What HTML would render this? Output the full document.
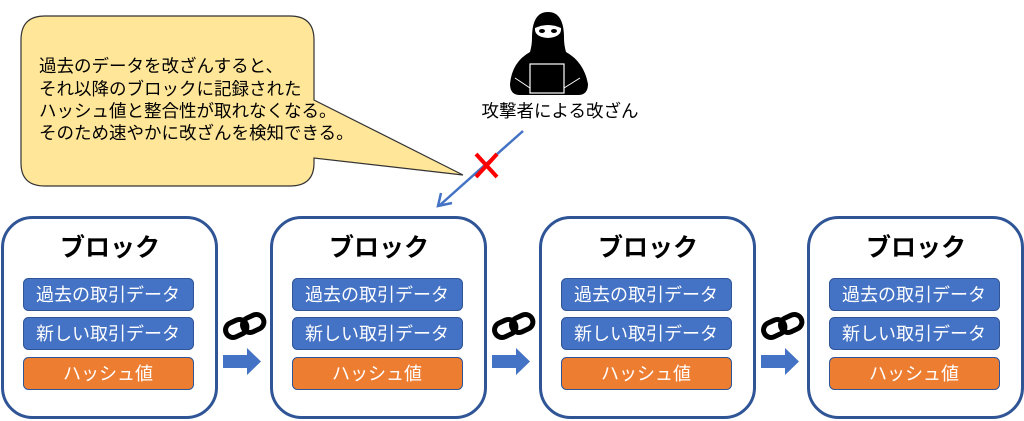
<!DOCTYPE html>
<html><head><meta charset="utf-8"><style>
html,body{margin:0;padding:0;background:#fff;width:1024px;height:421px;overflow:hidden}
svg text{font-family:"Liberation Sans","Noto Sans CJK JP",sans-serif}
</style></head><body>
<svg width="1024" height="421" viewBox="0 0 1024 421" xmlns="http://www.w3.org/2000/svg">
<defs>
<g id="blk">
  <rect x="2.5" y="217.5" width="214" height="200" rx="30" fill="#fff" stroke="#2f5597" stroke-width="3"/>
  <text x="110" y="256" font-size="25" font-weight="bold" text-anchor="middle" fill="#000">ブロック</text>
  <rect x="23.5" y="278.5" width="170" height="32" rx="5" fill="#4472c4" stroke="#2f5597" stroke-width="1"/>
  <text x="108" y="301" font-size="18" text-anchor="middle" fill="#fff">過去の取引データ</text>
  <rect x="23.5" y="317.5" width="170" height="32" rx="5" fill="#4472c4" stroke="#2f5597" stroke-width="1"/>
  <text x="108" y="340" font-size="18" text-anchor="middle" fill="#fff">新しい取引データ</text>
  <rect x="23.5" y="357.5" width="170" height="32" rx="5" fill="#ed7d31" stroke="#2f5597" stroke-width="1"/>
  <text x="108" y="380" font-size="18" text-anchor="middle" fill="#fff">ハッシュ値</text>
</g>
<g id="lnk">
  <g fill="none" stroke="#000" stroke-width="5">
    <rect x="225" y="321" width="22" height="15" rx="7.5" transform="rotate(-25 236 328)"/>
    <rect x="242" y="316" width="22" height="15" rx="7.5" transform="rotate(-25 253 323)"/>
  </g>
  <polygon points="223,355 247,355 247,348 261,361.5 247,375 247,368 223,368" fill="#4472c4"/>
</g>
</defs>
<use href="#blk"/>
<use href="#blk" x="269"/>
<use href="#blk" x="538"/>
<use href="#blk" x="806"/>
<use href="#lnk"/>
<use href="#lnk" x="269"/>
<use href="#lnk" x="538"/>
<!-- bubble -->
<path d="M45,16 H290 Q314,16 314,40 V100 L463,175 L314,158 V163 Q314,186 290,186 H45 Q21,186 21,163 V40 Q21,16 45,16 Z" fill="#ffe699" stroke="#333" stroke-width="1.2"/>
<g font-size="17.5" fill="#000">
<text x="39" y="72">過去のデータを改ざんすると、</text>
<text x="39" y="95">それ以降のブロックに記録された</text>
<text x="39" y="117">ハッシュ値と整合性が取れなくなる。</text>
<text x="39" y="139">そのため速やかに改ざんを検知できる。</text>
</g>
<!-- ninja -->
<path d="M520,95 Q510,95 510,84 Q512,62 530,52 Q532,45 532,38 Q532,12 548,12 Q564,12 564,38 Q564,45 566,52 Q584,62 588,84 Q588,95 578,95 Z" fill="#000"/>
<path d="M535,28 Q548,22 561,28 Q562,37 548,38 Q534,37 535,28 Z" fill="#fff"/>
<ellipse cx="542" cy="31" rx="3" ry="2" fill="#000"/><ellipse cx="554" cy="31" rx="3" ry="2" fill="#000"/>
<rect x="530" y="64" width="34" height="29" fill="#000" stroke="#fff" stroke-width="1.2"/>
<path d="M515,78 L530,88 M580,78 L564,88" stroke="#fff" stroke-width="1"/>
<text x="560" y="117" font-size="17.5" text-anchor="middle" fill="#000">攻撃者による改ざん</text>
<!-- arrow -->
<line x1="523" y1="131" x2="440" y2="205" stroke="#4472c4" stroke-width="2.5"/>
<polyline points="441,193 438,206 452,203" fill="none" stroke="#4472c4" stroke-width="2.5"/>
<g stroke="#ff0000" stroke-width="4"><line x1="476" y1="154" x2="497" y2="177"/><line x1="497" y1="154" x2="476" y2="177"/></g>
</svg>
</body></html>
